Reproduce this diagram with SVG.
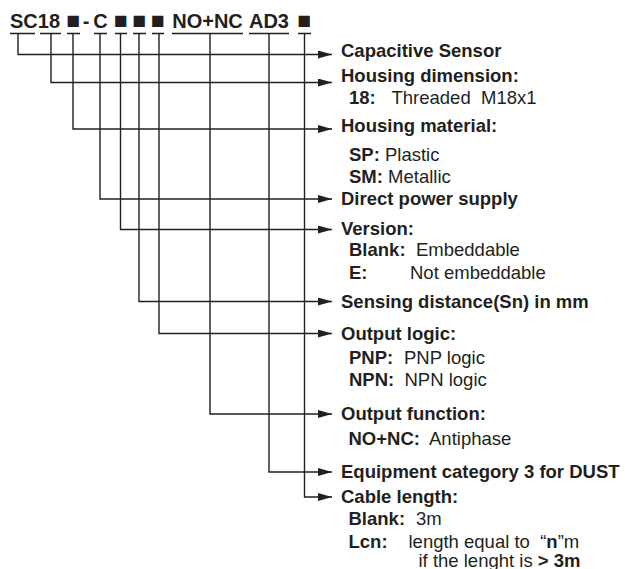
<svg xmlns="http://www.w3.org/2000/svg" width="625" height="569" viewBox="0 0 625 569">
<defs>
<marker id="ah" markerWidth="14" markerHeight="8" refX="14" refY="4" orient="auto" markerUnits="userSpaceOnUse">
<path d="M0,0 L14,4 L0,8 Z" fill="#231f20"/>
</marker>
<style>
text{font-family:"Liberation Sans",Arial,sans-serif;fill:#231f20}
.t{font-size:20px;font-weight:bold}
.q{font-size:23px}
.h{font-size:18.5px;font-weight:bold}
.s{font-size:18.5px}
.b{font-weight:bold}
.ul{stroke:#231f20;stroke-width:1.4;fill:none}
.c{stroke:#231f20;stroke-width:1.4;fill:none;marker-end:url(#ah)}
</style>
</defs>
<rect width="625" height="569" fill="#fff"/>
<g id="code">
<text class="t" x="10" y="28">SC18</text>
<text class="t q" x="73.5" y="28" text-anchor="middle">■</text>
<text class="t" x="86" y="28" text-anchor="middle">-</text>
<text class="t" x="100.5" y="28" text-anchor="middle">C</text>
<text class="t q" x="121" y="28" text-anchor="middle">■</text>
<text class="t q" x="139.5" y="28" text-anchor="middle">■</text>
<text class="t q" x="158" y="28" text-anchor="middle">■</text>
<text class="t" x="207.5" y="28" text-anchor="middle">NO+NC</text>
<text class="t" x="269" y="28" text-anchor="middle">AD3</text>
<text class="t q" x="304.5" y="28" text-anchor="middle">■</text>
<path class="ul" d="M10,33.5H35M40,33.5H61M67,33.5H80M94,33.5H107M115,33.5H127M133,33.5H146M152,33.5H164M172,33.5H243M249,33.5H289M298,33.5H311"/>
</g>
<g id="connectors">
<path class="c" d="M18,33.5V54.5H332"/>
<path class="c" d="M51,33.5V82.5H332"/>
<path class="c" d="M73,33.5V129H332"/>
<path class="c" d="M100,33.5V199H332"/>
<path class="c" d="M120.5,33.5V229.5H332"/>
<path class="c" d="M139,33.5V301.5H332"/>
<path class="c" d="M159,33.5V333.5H332"/>
<path class="c" d="M210,33.5V414H332"/>
<path class="c" d="M269,33.5V472H332"/>
<path class="c" d="M304.5,33.5V497H332"/>
</g>
<g id="n1"><text class="h" x="341" y="56.5">Capacitive Sensor</text></g>
<g id="n2">
<text class="h" x="341" y="81.5">Housing dimension:</text>
<text class="s b" x="349" y="104">18:</text>
<text class="s" x="391.5" y="104">Threaded</text>
<text class="s" x="481" y="104">M18x1</text>
</g>
<g id="n3">
<text class="h" x="341" y="132">Housing material:</text>
<text class="s" x="349" y="160.5"><tspan class="b">SP:</tspan> Plastic</text>
<text class="s" x="349" y="182.5"><tspan class="b">SM:</tspan> Metallic</text>
</g>
<g id="n4"><text class="h" x="341" y="205">Direct power supply</text></g>
<g id="n5">
<text class="h" x="341" y="235">Version:</text>
<text class="s b" x="349" y="256">Blank:</text>
<text class="s" x="416" y="256">Embeddable</text>
<text class="s b" x="349" y="279">E:</text>
<text class="s" x="410" y="279">Not embeddable</text>
</g>
<g id="n6"><text class="h" x="341" y="307.5">Sensing distance(Sn) in mm</text></g>
<g id="n7">
<text class="h" x="341" y="339.5">Output logic:</text>
<text class="s b" x="349" y="363.5">PNP:</text>
<text class="s" x="404" y="363.5">PNP logic</text>
<text class="s b" x="349" y="386">NPN:</text>
<text class="s" x="404.5" y="386">NPN logic</text>
</g>
<g id="n8">
<text class="h" x="341" y="420">Output function:</text>
<text class="s b" x="348.5" y="445">NO+NC:</text>
<text class="s" x="429" y="445">Antiphase</text>
</g>
<g id="n9"><text class="h" x="341" y="477.5">Equipment category 3 for DUST</text></g>
<g id="n10">
<text class="h" x="341" y="502.5">Cable length:</text>
<text class="s b" x="348.5" y="525">Blank:</text>
<text class="s" x="416" y="525">3m</text>
<text class="s b" x="348.5" y="548">Lcn:</text>
<text class="s" x="408.5" y="548" xml:space="preserve">length equal to  “<tspan class="b">n</tspan>”m</text>
<text class="s" x="418.5" y="566.5">if the lenght is <tspan class="b">&gt; 3m</tspan></text>
</g>
</svg>
